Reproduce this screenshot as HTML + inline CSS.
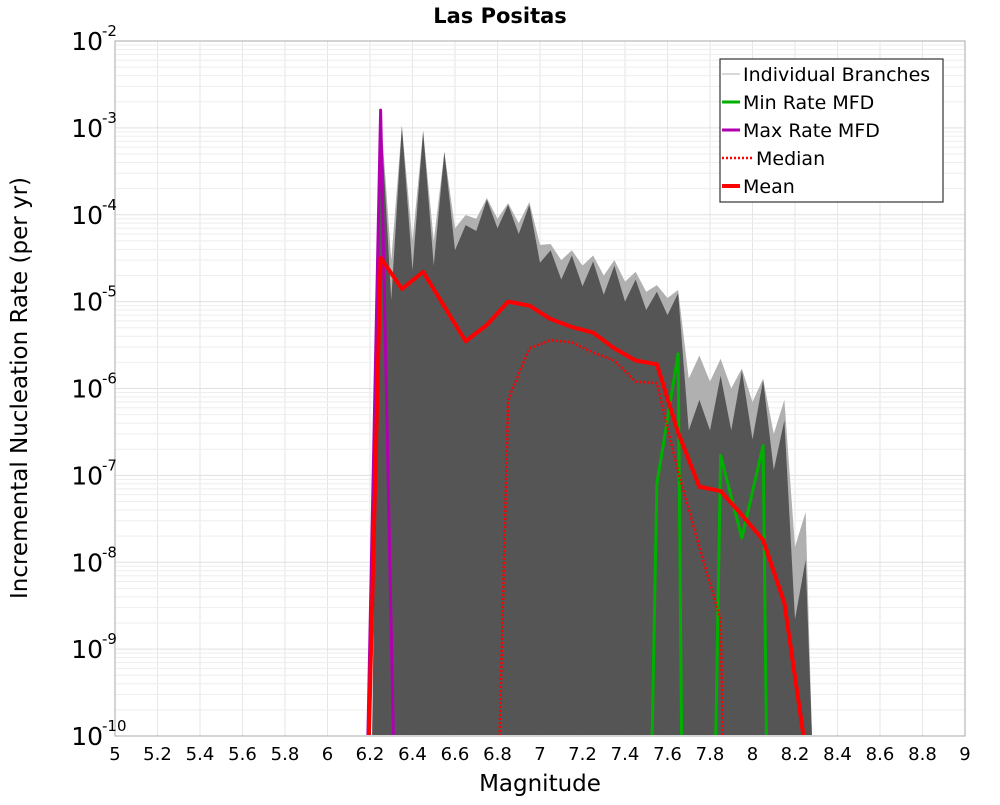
<!DOCTYPE html>
<html><head><meta charset="utf-8"><style>
body{margin:0;background:#fff;}
svg text{font-family:"DejaVu Sans","Liberation Sans",sans-serif;}
</style></head><body>
<svg id="chart" width="1000" height="800" xmlns="http://www.w3.org/2000/svg">
<defs><clipPath id="plotclip"><rect x="115" y="41" width="850" height="694"/></clipPath></defs>
<text x="500" y="23" text-anchor="middle" font-size="21" font-weight="bold">Las Positas</text>
<g id="grid"></g>
<g id="env" clip-path="url(#plotclip)"></g>
<g id="series" clip-path="url(#plotclip)"></g>
<rect x="115" y="41" width="850" height="695" fill="none" stroke="#aaa" stroke-width="1"/>
<g id="xticks"></g>
<g id="yticks"></g>
<text x="540" y="791" text-anchor="middle" font-size="23">Magnitude</text>
<text transform="translate(27,388) rotate(-90)" text-anchor="middle" font-size="23">Incremental Nucleation Rate (per yr)</text>
<g>
<rect x="720" y="59" width="223" height="143" fill="#fff" stroke="#333" stroke-width="1.2"/>
<g><line x1="722" y1="74" x2="740" y2="74" stroke="#ccc" stroke-width="1.5"/><text x="743" y="81" font-size="19">Individual Branches</text></g>
<g><line x1="722" y1="102" x2="740" y2="102" stroke="#00b000" stroke-width="3"/><text x="743" y="109" font-size="19">Min Rate MFD</text></g>
<g><line x1="722" y1="130" x2="740" y2="130" stroke="#b000b0" stroke-width="3"/><text x="743" y="137" font-size="19">Max Rate MFD</text></g>
<g><line x1="722" y1="158" x2="752" y2="158" stroke="#f00" stroke-width="2.5" stroke-dasharray="2,2"/><text x="756" y="165" font-size="19">Median</text></g>
<g><line x1="722" y1="186" x2="740" y2="186" stroke="#f00" stroke-width="4"/><text x="743" y="193" font-size="19">Mean</text></g>
</g>
</svg>
<script>
const bins=[6.25,6.35,6.45,6.55,6.65,6.75,6.85,6.95,7.05,7.15,7.25,7.35,7.45,7.55,7.65,7.75,7.85,7.95,8.05,8.15,8.25];
const darkPeak=[1.6e-3,1.05e-3,9.2e-4,5.3e-4,7.6e-5,1.5e-4,1.3e-4,1.3e-4,3.9e-5,3.4e-5,2.9e-5,2.6e-5,1.8e-5,1.3e-5,1.25e-5,7.4e-7,1.4e-6,1.6e-6,1.25e-6,4.3e-7,1.06e-8];
const darkValley=[1.04e-5,2.3e-5,2.6e-5,3.9e-5,6.5e-5,7e-5,6e-5,2.8e-5,1.8e-5,1.5e-5,1.2e-5,1e-5,8e-6,7e-6,3.3e-7,3.3e-7,3.3e-7,2.6e-7,1.15e-7,2.2e-9];
const lightPeak=[1.6e-3,1.05e-3,9.2e-4,5.3e-4,9.9e-5,1.56e-4,1.36e-4,1.4e-4,4.6e-5,3.9e-5,3.4e-5,3.0e-5,2.2e-5,1.55e-5,1.36e-5,2.4e-6,2.2e-6,1.7e-6,1.3e-6,7.4e-7,3.8e-8];
const lightValley=[3e-5,5e-5,5e-5,7e-5,9e-5,9e-5,8e-5,4.5e-5,3e-5,2.6e-5,2e-5,1.7e-5,1.3e-5,1.1e-5,1.3e-6,1.2e-6,1e-6,7e-7,3e-7,1.5e-8];
const meanM=[6.195,6.25,6.35,6.45,6.65,6.75,6.85,6.95,7.05,7.15,7.25,7.35,7.45,7.55,7.65,7.75,7.85,7.95,8.05,8.15,8.24];
const meanV=[1e-10,3.2e-5,1.4e-5,2.2e-5,3.5e-6,5.4e-6,1e-5,9e-6,6.3e-6,5.1e-6,4.4e-6,2.9e-6,2.1e-6,1.9e-6,3.1e-7,7.4e-8,6.6e-8,3.5e-8,1.8e-8,3.4e-9,1e-10];
const medM=[6.81,6.85,6.95,7.05,7.15,7.25,7.35,7.45,7.55,7.65,7.75,7.85,7.86];
const medV=[1e-10,7.4e-7,2.9e-6,3.6e-6,3.4e-6,2.6e-6,2.1e-6,1.2e-6,1.15e-6,1.1e-7,1.5e-8,2.2e-9,1e-10];
const maxM=[6.19,6.25,6.31];
const maxV=[1e-10,1.6e-3,1e-10];
const minM=[7.52,7.55,7.65,7.67,7.82,7.85,7.95,8.05,8.07];
const minV=[1e-11,8e-8,2.5e-6,1e-11,1e-11,1.7e-7,1.9e-8,2.2e-7,1e-11];
const xTicks=[5,5.2,5.4,5.6,5.8,6,6.2,6.4,6.6,6.8,7,7.2,7.4,7.6,7.8,8,8.2,8.4,8.6,8.8,9];
const yExps=[-2,-3,-4,-5,-6,-7,-8,-9,-10];

const NS="http://www.w3.org/2000/svg";
const X0=115,X1=965,Y0=41,Y1=736;
function sx(m){return X0+(m-5)/(9-5)*(X1-X0);}
function sy(v){const l=Math.log10(Math.max(v,1e-11));return Y0+(-2-l)/8*(Y1-Y0);}
function mk(tag,parent){const e=document.createElementNS(NS,tag);parent.appendChild(e);return e;}

const grid=document.getElementById('grid');
for(const t of xTicks){const l=mk('line',grid);


l.setAttribute('x1',sx(t));l.setAttribute('x2',sx(t));l.setAttribute('y1',Y0);l.setAttribute('y2',Y1);l.setAttribute('stroke','#e6e6e6');}
for(let e=-10;e<-2;e++){for(let k=1;k<10;k++){const v=k*Math.pow(10,e);const l=mk('line',grid);


l.setAttribute('x1',X0);l.setAttribute('x2',X1);l.setAttribute('y1',sy(v));l.setAttribute('y2',sy(v));l.setAttribute('stroke',k==1?'#e0e0e0':'#eeeeee');}}

function envPoints(peaks,valleys){let p=[[sx(6.21),sy(1e-10)]];
for(let i=0;i<bins.length;i++){p.push([sx(bins[i]),sy(peaks[i])]);if(i<valleys.length)p.push([sx(bins[i]+0.05),sy(valleys[i])]);}
p.push([sx(8.28),sy(1e-10)]);return p.map(q=>q.join(',')).join(' ');}
const env=document.getElementById('env');
const lp=mk('polygon',env);


lp.setAttribute('points',envPoints(lightPeak,lightValley));lp.setAttribute('fill','#b0b0b0');
const dp=mk('polygon',env);


dp.setAttribute('points',envPoints(darkPeak,darkValley));dp.setAttribute('fill','#555555');

const ser=document.getElementById('series');
function line(ms,vs,color,w,dash,name){const p=mk('polyline',ser);


p.setAttribute('points',ms.map((m,i)=>sx(m)+','+sy(vs[i])).join(' '));
p.setAttribute('fill','none');p.setAttribute('stroke',color);p.setAttribute('stroke-width',w);p.setAttribute('stroke-linejoin','round');
if(dash)p.setAttribute('stroke-dasharray',dash);}
line(maxM,maxV,'#b000b0',3,null,'max-rate-line');
line(minM,minV,'#00b000',3,null,'min-rate-line');
line(medM,medV,'#ff0000',2.5,'2,2','median-line');
line(meanM,meanV,'#ff0000',4,null,'mean-line');

const xt=document.getElementById('xticks');
for(const t of xTicks){const tx=mk('text',xt);


tx.setAttribute('x',sx(t));tx.setAttribute('y',760);tx.setAttribute('text-anchor','middle');tx.setAttribute('font-size','18');
tx.textContent=String(t);}
const yt=document.getElementById('yticks');
for(const e of yExps){const tx=mk('text',yt);


tx.setAttribute('x',103);tx.setAttribute('y',sy(Math.pow(10,e))+9);tx.setAttribute('text-anchor','end');tx.setAttribute('font-size','25');
tx.textContent='10';
const s=mk('text',yt);


s.setAttribute('x',102);s.setAttribute('y',sy(Math.pow(10,e))-5);s.setAttribute('font-size','15');
s.textContent=String(e);}
</script>
</body></html>
